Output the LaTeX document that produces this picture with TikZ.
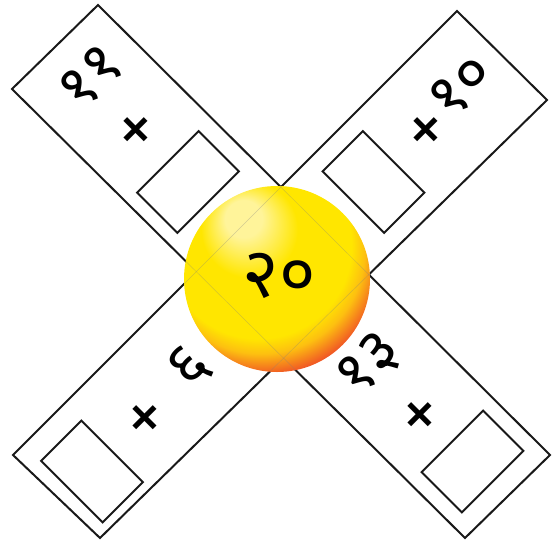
\documentclass[tikz,border=0pt]{standalone}
\usepackage{fontspec}
\newfontfamily\deva[Script=Devanagari]{Noto Sans}
\newfontfamily\plusfont{DejaVu Sans}
\definecolor{hl}{HTML}{FFF49A}
\definecolor{ylw}{HTML}{FFE600}
\definecolor{yor}{HTML}{FDC010}
\definecolor{org}{HTML}{F15A24}
\pgfdeclareradialshading{ballsh}{\pgfpoint{-10bp}{18bp}}{color(0bp)=(hl); color(5bp)=(hl); color(13bp)=(ylw); color(25bp)=(ylw); color(28bp)=(yor); color(32bp)=(org); color(50bp)=(org)}
\begin{document}
\begin{tikzpicture}[x=1pt,y=-1pt]
\tikzset{
  strip/.style={draw=black!90, line width=2pt, line join=miter},
  ansbox/.style={draw=black!90, line width=2pt, minimum width=87pt, minimum height=57pt, inner sep=0pt},
  num/.style={font=\deva\bfseries\fontsize{62}{64}\selectfont, rotate=45, inner sep=0pt},
  plussign/.style={font=\plusfont\bfseries\fontsize{46}{48}\selectfont, rotate=45, inner sep=0pt},
  faint/.style={draw=black!50, line width=0.5pt, opacity=0.35}
}
\useasboundingbox (0,0) rectangle (559,541);
% the two strips
\draw[strip] (98,5) -- (550,455) -- (465,538) -- (12,89) -- cycle;
\draw[strip] (457,11) -- (547,100) -- (100,538) -- (13,455) -- cycle;
% answer boxes
\node[ansbox, rotate=45]  (boxTL) at (188,182) {};
\node[ansbox, rotate=-45] (boxTR) at (373.5,182) {};
\node[ansbox, rotate=-45] (boxBL) at (92,471.5) {};
\node[ansbox, rotate=45]  (boxBR) at (472.5,461.5) {};
% plus signs
\node[plussign] (pTL) at (136,130) {+};
\node[plussign] (pTR) at (426,130) {+};
\node[plussign] (pBL) at (145,418) {+};
\node[plussign] (pBR) at (420,415) {+};
% numbers
\node[num] (nTL) at (91,77) {११};
\node[num] (nTR) at (461,86) {१०};
\node[num] (nBL) at (190,367) {६};
\node[num] (nBR) at (370,365) {१३};
% centre ball
\shade[shading=ballsh] (277,279) circle (93);
\begin{scope}
  \clip (277,279) circle (93);
  \draw[faint] (98,5) -- (550,455) (465,538) -- (12,89);
  \draw[faint] (457,11) -- (13,455) (547,100) -- (100,538);
\end{scope}
\node[font=\deva\bfseries\fontsize{70}{72}\selectfont, inner sep=0pt] (centre) at (279,276) {२०};
\end{tikzpicture}
\end{document}
